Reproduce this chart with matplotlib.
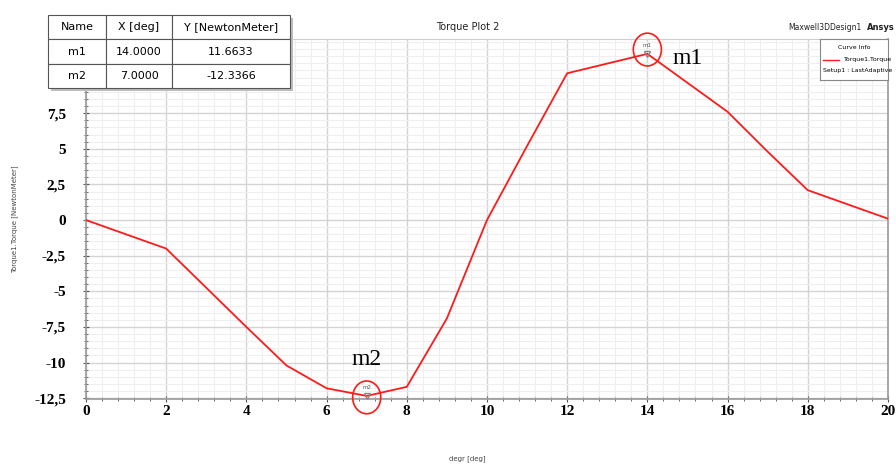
import matplotlib.pyplot as plt
from matplotlib.patches import Ellipse
from matplotlib.ticker import MultipleLocator, FuncFormatter

# torque curve
angle_deg = [0, 2, 4, 5, 6, 7, 8, 9, 10, 11, 12, 14, 16, 17, 18, 20]
torque_nm = [0.0, -2.0, -7.5, -10.2, -11.8, -12.3366, -11.7, -6.9, 0.0, 5.2,
             10.3, 11.6633, 7.6, 4.8, 2.1, 0.1]

marker_names = ['m1', 'm2']
marker_x = [14.0, 7.0]
marker_y = [11.6633, -12.3366]

x_ticks = [0, 2, 4, 6, 8, 10, 12, 14, 16, 18, 20]
y_ticks = [-12.5, -10, -7.5, -5, -2.5, 0, 2.5, 5, 7.5]


def main():
    fig = plt.figure(figsize=(8.96, 4.65), dpi=100)
    ax = fig.add_axes([0.096, 0.142, 0.895, 0.774])

    ax.plot(angle_deg, torque_nm, color='#ff1a1a', lw=1.3, zorder=3)

    ax.set_xlim(0, 20)
    ax.set_ylim(-12.55, 12.7)

    ax.xaxis.set_minor_locator(MultipleLocator(0.4))
    ax.yaxis.set_minor_locator(MultipleLocator(0.5))
    ax.set_xticks(x_ticks)
    ax.set_yticks(y_ticks)
    ax.yaxis.set_major_formatter(FuncFormatter(
        lambda v, p: ('%g' % v).replace('.', ',')))

    ax.grid(which='major', color='#d4d4d4', lw=1.0)
    ax.grid(which='minor', color='#efefef', lw=0.8)
    ax.set_axisbelow(True)

    ax.spines['top'].set_color('#d0d0d0')
    for s in ['left', 'bottom', 'right']:
        ax.spines[s].set_color('#9a9a9a')
        ax.spines[s].set_linewidth(1.2)

    ax.tick_params(which='both', direction='inout', color='#555555')
    ax.tick_params(which='major', length=5)
    ax.tick_params(which='minor', length=3)
    ax.tick_params(axis='x', pad=2)
    ax.tick_params(axis='y', pad=12)
    for lab in ax.get_xticklabels() + ax.get_yticklabels():
        lab.set_fontfamily('Liberation Serif')
        lab.set_fontweight('bold')
        lab.set_fontsize(11)

    ax.set_ylabel('Torque1.Torque [NewtonMeter]', fontsize=5, color='#444444')
    ax.yaxis.set_label_coords(-0.085, 0.5)
    fig.text(0.522, 0.01, 'degr [deg]', fontsize=5, color='#444444', ha='center')

    fig.text(0.522, 0.935, 'Torque Plot 2', fontsize=7, color='#222222', ha='center')
    fig.text(0.962, 0.935, 'Maxwell3DDesign1', fontsize=5.5, color='#222222', ha='right')
    fig.text(0.998, 0.935, 'Ansys', fontsize=6, color='#222222', fontweight='bold',
             ha='right')

    # markers with circles
    for name, mx, my in zip(marker_names, marker_x, marker_y):
        ax.plot(mx, my, marker='v', ms=4, mfc='none', mec='#888888', zorder=4)
        ax.annotate(name, (mx, my), xytext=(0, 5), textcoords='offset points',
                    fontsize=4, color='#555555', ha='center')
        ax.add_patch(Ellipse((mx, my + (0.3 if my > 0 else -0.1)), 0.7, 2.3,
                             fill=False, ec='#ff1a1a', lw=1.2, zorder=5,
                             clip_on=False))
    ax.annotate('m1', (marker_x[0], marker_y[0]), xytext=(18, -3),
                textcoords='offset points', fontsize=17,
                fontfamily='Liberation Serif', va='center')
    ax.annotate('m2', (marker_x[1], marker_y[1]), xytext=(0, 26),
                textcoords='offset points', fontsize=17,
                fontfamily='Liberation Serif', ha='center', va='center')

    # marker table
    rows = [['Name', 'X [deg]', 'Y [NewtonMeter]']]
    for name, mx, my in zip(marker_names, marker_x, marker_y):
        rows.append([name, '%.4f' % mx, '%.4f' % my])
    tax = fig.add_axes([48 / 896, 1 - 88 / 465, 242 / 896, 73 / 465])
    tax.axis('off')
    shadow = fig.add_axes([51 / 896, 1 - 91 / 465, 242 / 896, 73 / 465])
    shadow.set_facecolor('#bdbdbd')
    shadow.set_xticks([])
    shadow.set_yticks([])
    for s in shadow.spines.values():
        s.set_visible(False)
    shadow.set_zorder(5)
    tax.set_zorder(6)
    tbl = tax.table(cellText=rows, colWidths=[58, 66, 118], loc='center',
                    cellLoc='center', bbox=[0, 0, 1, 1])
    tbl.auto_set_font_size(False)
    tbl.set_fontsize(8)
    for (r, c), cell in tbl.get_celld().items():
        cell.set_edgecolor('#555555')
        cell.set_linewidth(0.8)
        cell.set_facecolor('white')

    # curve info box
    lax = fig.add_axes([820 / 896, 1 - 80 / 465, 68 / 896, 41 / 465])
    lax.set_zorder(6)
    lax.set_xticks([])
    lax.set_yticks([])
    for s in lax.spines.values():
        s.set_color('#888888')
        s.set_linewidth(0.8)
    lax.set_xlim(0, 1)
    lax.set_ylim(0, 1)
    lax.text(0.5, 0.8, 'Curve Info', fontsize=4.5, ha='center', va='center')
    lax.plot([0.04, 0.28], [0.5, 0.5], color='#ff1a1a', lw=1)
    lax.text(0.36, 0.5, 'Torque1.Torque', fontsize=4.5, va='center')
    lax.text(0.05, 0.22, 'Setup1 : LastAdaptive', fontsize=4.5, va='center')

    fig.savefig('out.png', dpi=100)


if __name__ == '__main__':
    main()
